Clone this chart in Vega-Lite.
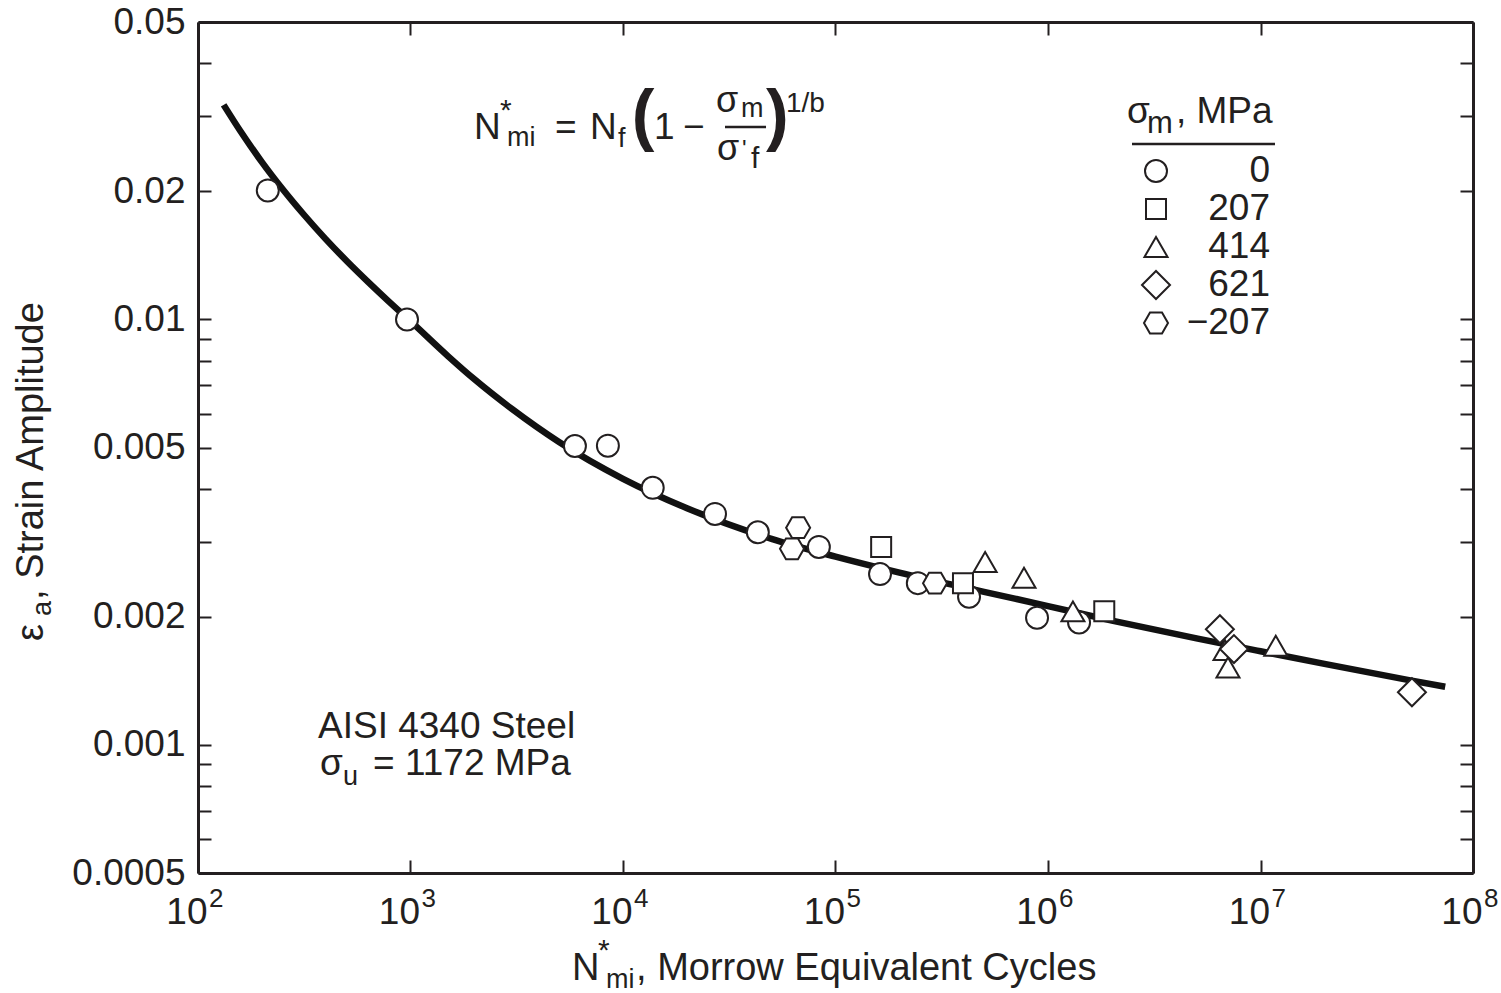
{
  "$schema": "https://vega.github.io/schema/vega-lite/v6.json",
  "width": 1275,
  "height": 851,
  "autosize": {"type": "none"},
  "padding": {"left": 198, "top": 22, "right": 28, "bottom": 120},
  "background": "white",
  "config": {
    "font": "Liberation Sans",
    "view": {"stroke": null},
    "text": {"font": "Liberation Sans", "color": "#231f20", "align": "left", "baseline": "alphabetic"},
    "point": {"filled": true, "fill": "white", "stroke": "#231f20", "strokeWidth": 2, "opacity": 1},
    "axis": {"grid": false, "domainColor": "#231f20", "domainWidth": 3, "tickColor": "#231f20", "tickWidth": 2, "tickSize": -13, "labelColor": "#231f20", "labelFont": "Liberation Sans", "labelFontSize": 37, "labelFlush": false, "labelOverlap": false, "title": null}
  },
  "layer": [
    {
      "data": {"values": [
        {"n": 132, "e": 0.031933}, {"n": 158.5, "e": 0.027686}, {"n": 199.5, "e": 0.023461}, {"n": 251, "e": 0.0202},
        {"n": 316, "e": 0.017595}, {"n": 398, "e": 0.015465}, {"n": 501, "e": 0.013719}, {"n": 631, "e": 0.012255},
        {"n": 794, "e": 0.011}, {"n": 1000, "e": 0.009905}, {"n": 1500, "e": 0.0082}, {"n": 2000, "e": 0.00723},
        {"n": 3000, "e": 0.00616}, {"n": 5000, "e": 0.00515}, {"n": 10000, "e": 0.00422}, {"n": 20000, "e": 0.0036},
        {"n": 50000, "e": 0.00305}, {"n": 100000, "e": 0.00277}, {"n": 200000, "e": 0.00254}, {"n": 500000, "e": 0.00229},
        {"n": 1000000, "e": 0.00212}, {"n": 2000000, "e": 0.00196}, {"n": 5000000, "e": 0.00178}, {"n": 10000000, "e": 0.00166},
        {"n": 20000000, "e": 0.00155}, {"n": 50000000, "e": 0.00142}, {"n": 74000000, "e": 0.00137}
      ]},
      "mark": {"type": "line", "color": "#111111", "strokeWidth": 6.5, "interpolate": "monotone"},
      "encoding": {
        "x": {"field": "n", "type": "quantitative", "scale": {"type": "log", "domain": [100, 100000000], "nice": false},
          "axis": {"orient": "bottom", "values": [100, 1000, 10000, 100000, 1000000, 10000000, 100000000], "labelExpr": "'10'", "labelAlign": "right", "labelOffset": 9, "labelBaseline": "alphabetic", "labelPadding": 63}},
        "y": {"field": "e", "type": "quantitative", "scale": {"type": "log", "domain": [0.0005, 0.05], "nice": false},
          "axis": {"orient": "left", "values": [0.0005, 0.0006, 0.0007, 0.0008, 0.0009, 0.001, 0.002, 0.003, 0.004, 0.005, 0.006, 0.007, 0.008, 0.009, 0.01, 0.02, 0.03, 0.04, 0.05], "format": "~g", "labelExpr": "indexof([0.0005, 0.001, 0.002, 0.005, 0.01, 0.02, 0.05], datum.value) >= 0 ? datum.label : ''", "labelPadding": 26, "labelBaseline": "middle"}}
      }
    },
    {
      "data": {"values": [
        {"n": 213, "e": 0.0201, "s": "0"}, {"n": 963, "e": 0.01, "s": "0"}, {"n": 5940, "e": 0.00504, "s": "0"},
        {"n": 8490, "e": 0.00505, "s": "0"}, {"n": 13800, "e": 0.00402, "s": "0"}, {"n": 27100, "e": 0.00349, "s": "0"},
        {"n": 43100, "e": 0.00316, "s": "0"}, {"n": 83500, "e": 0.00292, "s": "0"}, {"n": 162000, "e": 0.00252, "s": "0"},
        {"n": 244000, "e": 0.0024, "s": "0"}, {"n": 425000, "e": 0.00223, "s": "0"}, {"n": 888000, "e": 0.00199, "s": "0"},
        {"n": 1400000, "e": 0.00194, "s": "0"},
        {"n": 164000, "e": 0.00292, "s": "207"}, {"n": 398000, "e": 0.0024, "s": "207"}, {"n": 1840000, "e": 0.00206, "s": "207"},
        {"n": 506000, "e": 0.00269, "s": "414"}, {"n": 771000, "e": 0.00247, "s": "414"}, {"n": 1310000, "e": 0.00206, "s": "414"},
        {"n": 6810000, "e": 0.00167, "s": "414"}, {"n": 7030000, "e": 0.00152, "s": "414"}, {"n": 11800000, "e": 0.00171, "s": "414"},
        {"n": 6440000, "e": 0.00187, "s": "621"}, {"n": 7500000, "e": 0.00168, "s": "621"}, {"n": 51600000, "e": 0.00133, "s": "621"},
        {"n": 66700, "e": 0.00324, "s": "−207"}, {"n": 62400, "e": 0.00289, "s": "−207"}, {"n": 294000, "e": 0.0024, "s": "−207"}
      ]},
      "mark": {"type": "point"},
      "encoding": {
        "x": {"field": "n", "type": "quantitative", "axis": {"orient": "top", "values": [100, 1000, 10000, 100000, 1000000, 10000000, 100000000], "labels": false}},
        "y": {"field": "e", "type": "quantitative", "axis": {"orient": "right", "values": [0.0005, 0.0006, 0.0007, 0.0008, 0.0009, 0.001, 0.002, 0.003, 0.004, 0.005, 0.006, 0.007, 0.008, 0.009, 0.01, 0.02, 0.03, 0.04, 0.05], "labels": false}},
        "shape": {"field": "s", "type": "nominal", "scale": {"domain": ["0", "207", "414", "621", "−207"], "range": ["circle", "square", "triangle-up", "diamond", "M-1,0L-0.5,-0.866L0.5,-0.866L1,0L0.5,0.866L-0.5,0.866Z"]}, "legend": null},
        "size": {"field": "s", "type": "nominal", "scale": {"type": "ordinal", "domain": ["0", "207", "414", "621", "−207"], "range": [484, 400, 530, 784, 576]}, "legend": null}
      }
    },
    {"data": {"values": [{}]}, "mark": {"type": "point", "size": 484}, "encoding": {"x": {"datum": 3222900, "axis": null}, "y": {"datum": 0.022324, "axis": null}, "shape": {"datum": "0", "legend": null}}},
    {"data": {"values": [{}]}, "mark": {"type": "point", "size": 400}, "encoding": {"x": {"datum": 3222900, "axis": null}, "y": {"datum": 0.018172, "axis": null}, "shape": {"datum": "207", "legend": null}}},
    {"data": {"values": [{}]}, "mark": {"type": "point", "size": 530}, "encoding": {"x": {"datum": 3222900, "axis": null}, "y": {"datum": 0.014802, "axis": null}, "shape": {"datum": "414", "legend": null}}},
    {"data": {"values": [{}]}, "mark": {"type": "point", "size": 784}, "encoding": {"x": {"datum": 3222900, "axis": null}, "y": {"datum": 0.012046, "axis": null}, "shape": {"datum": "621", "legend": null}}},
    {"data": {"values": [{}]}, "mark": {"type": "point", "size": 576}, "encoding": {"x": {"datum": 3222900, "axis": null}, "y": {"datum": 0.0098078, "axis": null}, "shape": {"datum": "−207", "legend": null}}},
    {"data": {"values": [{}]}, "mark": {"type": "text", "text": "0", "fontSize": 37, "align": "right", "baseline": "middle"}, "encoding": {"x": {"datum": 11083000, "axis": null}, "y": {"datum": 0.022324, "axis": null}}},
    {"data": {"values": [{}]}, "mark": {"type": "text", "text": "207", "fontSize": 37, "align": "right", "baseline": "middle"}, "encoding": {"x": {"datum": 11083000, "axis": null}, "y": {"datum": 0.018172, "axis": null}}},
    {"data": {"values": [{}]}, "mark": {"type": "text", "text": "414", "fontSize": 37, "align": "right", "baseline": "middle"}, "encoding": {"x": {"datum": 11083000, "axis": null}, "y": {"datum": 0.014802, "axis": null}}},
    {"data": {"values": [{}]}, "mark": {"type": "text", "text": "621", "fontSize": 37, "align": "right", "baseline": "middle"}, "encoding": {"x": {"datum": 11083000, "axis": null}, "y": {"datum": 0.012046, "axis": null}}},
    {"data": {"values": [{}]}, "mark": {"type": "text", "text": "−207", "fontSize": 37, "align": "right", "baseline": "middle"}, "encoding": {"x": {"datum": 11083000, "axis": null}, "y": {"datum": 0.0098078, "axis": null}}},
    {
      "data": {"values": [{"n": 100, "p": "2"}, {"n": 1000, "p": "3"}, {"n": 10000, "p": "4"}, {"n": 100000, "p": "5"}, {"n": 1000000, "p": "6"}, {"n": 10000000, "p": "7"}, {"n": 100000000, "p": "8"}]},
      "mark": {"type": "text", "fontSize": 26, "dx": 11},
      "encoding": {"x": {"field": "n", "type": "quantitative", "axis": null}, "y": {"datum": 0.00041599, "axis": null}, "text": {"field": "p"}}
    },
    {"data": {"values": [{}]}, "mark": {"type": "text", "text": "N", "fontSize": 37}, "encoding": {"x": {"datum": 1990, "axis": null}, "y": {"datum": 0.026546, "axis": null}}},
    {"data": {"values": [{}]}, "mark": {"type": "text", "text": "*", "fontSize": 30}, "encoding": {"x": {"datum": 2638, "axis": null}, "y": {"datum": 0.029417, "axis": null}}},
    {"data": {"values": [{}]}, "mark": {"type": "text", "text": "mi", "fontSize": 27}, "encoding": {"x": {"datum": 2846, "axis": null}, "y": {"datum": 0.025565, "axis": null}}},
    {"data": {"values": [{}]}, "mark": {"type": "text", "text": "=", "fontSize": 37}, "encoding": {"x": {"datum": 4786, "axis": null}, "y": {"datum": 0.026546, "axis": null}}},
    {"data": {"values": [{}]}, "mark": {"type": "text", "text": "N", "fontSize": 37}, "encoding": {"x": {"datum": 6995, "axis": null}, "y": {"datum": 0.026546, "axis": null}}},
    {"data": {"values": [{}]}, "mark": {"type": "text", "text": "f", "fontSize": 27}, "encoding": {"x": {"datum": 9480, "axis": null}, "y": {"datum": 0.025427, "axis": null}}},
    {"data": {"values": [{}]}, "mark": {"type": "text", "text": "(", "fontSize": 68, "fontWeight": "bold"}, "encoding": {"x": {"datum": 11000, "axis": null}, "y": {"datum": 0.02669, "axis": null}}},
    {"data": {"values": [{}]}, "mark": {"type": "text", "text": "1", "fontSize": 37}, "encoding": {"x": {"datum": 13992, "axis": null}, "y": {"datum": 0.026546, "axis": null}}},
    {"data": {"values": [{}]}, "mark": {"type": "text", "text": "−", "fontSize": 37}, "encoding": {"x": {"datum": 19160, "axis": null}, "y": {"datum": 0.026546, "axis": null}}},
    {"data": {"values": [{}]}, "mark": {"type": "text", "text": "σ", "fontSize": 36}, "encoding": {"x": {"datum": 27398, "axis": null}, "y": {"datum": 0.030721, "axis": null}}},
    {"data": {"values": [{}]}, "mark": {"type": "text", "text": "m", "fontSize": 27}, "encoding": {"x": {"datum": 35922, "axis": null}, "y": {"datum": 0.0299, "axis": null}}},
    {"data": {"values": [{}]}, "mark": {"type": "rule", "color": "#231f20", "strokeWidth": 2.5}, "encoding": {"x": {"datum": 30200, "axis": null}, "x2": {"datum": 47100}, "y": {"datum": 0.028327, "axis": null}}},
    {"data": {"values": [{}]}, "mark": {"type": "text", "text": "σ", "fontSize": 36}, "encoding": {"x": {"datum": 27696, "axis": null}, "y": {"datum": 0.023693, "axis": null}}},
    {"data": {"values": [{}]}, "mark": {"type": "text", "text": "'", "fontSize": 24}, "encoding": {"x": {"datum": 36308, "axis": null}, "y": {"datum": 0.024081, "axis": null}}},
    {"data": {"values": [{}]}, "mark": {"type": "text", "text": "f", "fontSize": 30}, "encoding": {"x": {"datum": 40017, "axis": null}, "y": {"datum": 0.02269, "axis": null}}},
    {"data": {"values": [{}]}, "mark": {"type": "text", "text": ")", "fontSize": 68, "fontWeight": "bold"}, "encoding": {"x": {"datum": 47100, "axis": null}, "y": {"datum": 0.02669, "axis": null}}},
    {"data": {"values": [{}]}, "mark": {"type": "text", "text": "1/b", "fontSize": 28}, "encoding": {"x": {"datum": 58479, "axis": null}, "y": {"datum": 0.030721, "axis": null}}},
    {"data": {"values": [{}]}, "mark": {"type": "text", "text": "AISI 4340 Steel", "fontSize": 37}, "encoding": {"x": {"datum": 367.1, "axis": null}, "y": {"datum": 0.0010381, "axis": null}}},
    {"data": {"values": [{}]}, "mark": {"type": "text", "text": "σ", "fontSize": 37}, "encoding": {"x": {"datum": 375.1, "axis": null}, "y": {"datum": 0.00084985, "axis": null}}},
    {"data": {"values": [{}]}, "mark": {"type": "text", "text": "u", "fontSize": 27}, "encoding": {"x": {"datum": 481.2, "axis": null}, "y": {"datum": 0.0008051, "axis": null}}},
    {"data": {"values": [{}]}, "mark": {"type": "text", "text": "= 1172 MPa", "fontSize": 37}, "encoding": {"x": {"datum": 666.1, "axis": null}, "y": {"datum": 0.00084985, "axis": null}}},
    {"data": {"values": [{}]}, "mark": {"type": "text", "text": "σ", "fontSize": 37}, "encoding": {"x": {"datum": 2353400, "axis": null}, "y": {"datum": 0.028943, "axis": null}}},
    {"data": {"values": [{}]}, "mark": {"type": "text", "text": "m", "fontSize": 31}, "encoding": {"x": {"datum": 2924200, "axis": null}, "y": {"datum": 0.027416, "axis": null}}},
    {"data": {"values": [{}]}, "mark": {"type": "text", "text": ", MPa", "fontSize": 37}, "encoding": {"x": {"datum": 4001700, "axis": null}, "y": {"datum": 0.028943, "axis": null}}},
    {"data": {"values": [{}]}, "mark": {"type": "rule", "color": "#231f20", "strokeWidth": 2.5}, "encoding": {"x": {"datum": 2485000, "axis": null}, "x2": {"datum": 11700000}, "y": {"datum": 0.025843, "axis": null}}},
    {"data": {"values": [{}]}, "mark": {"type": "text", "text": "N", "fontSize": 38}, "encoding": {"x": {"datum": 5754, "axis": null}, "y": {"datum": 0.00027995, "axis": null}}},
    {"data": {"values": [{}]}, "mark": {"type": "text", "text": "*", "fontSize": 30}, "encoding": {"x": {"datum": 7624, "axis": null}, "y": {"datum": 0.00031196, "axis": null}}},
    {"data": {"values": [{}]}, "mark": {"type": "text", "text": "mi", "fontSize": 27}, "encoding": {"x": {"datum": 8318, "axis": null}, "y": {"datum": 0.00026835, "axis": null}}},
    {"data": {"values": [{}]}, "mark": {"type": "text", "text": ", Morrow Equivalent Cycles", "fontSize": 38}, "encoding": {"x": {"datum": 11514, "axis": null}, "y": {"datum": 0.00027995, "axis": null}}},
    {"data": {"values": [{}]}, "mark": {"type": "text", "text": "ε", "fontSize": 38, "angle": 270}, "encoding": {"x": {"datum": 18.65, "axis": null}, "y": {"datum": 0.0017545, "axis": null}}},
    {"data": {"values": [{}]}, "mark": {"type": "text", "text": "a", "fontSize": 27, "angle": 270}, "encoding": {"x": {"datum": 20.33, "axis": null}, "y": {"datum": 0.0020088, "axis": null}}},
    {"data": {"values": [{}]}, "mark": {"type": "text", "text": ", Strain Amplitude", "fontSize": 38, "angle": 270}, "encoding": {"x": {"datum": 18.65, "axis": null}, "y": {"datum": 0.0021913, "axis": null}}}
  ]
}
